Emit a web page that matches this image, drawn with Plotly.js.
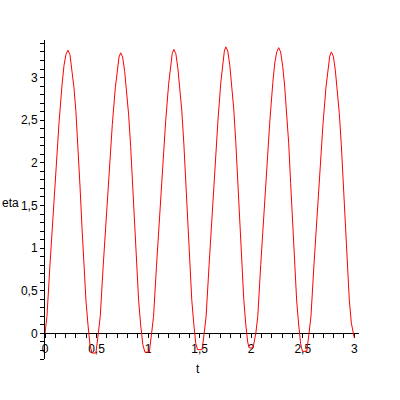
<!DOCTYPE html>
<html>
<head>
<meta charset="utf-8">
<script src="https://cdn.plot.ly/plotly-3.0.1.min.js"></script>
<style>
  html, body { margin: 0; padding: 0; background: #fff; }
  #plot { width: 400px; height: 400px; }
</style>
</head>
<body>
<div id="plot"></div>
<script>
// values, one hump (rise, peak, fall, trough) per array
var t1 = [0, 0.019, 0.048, 0.078, 0.107, 0.136, 0.165, 0.184, 0.203, 0.222, 0.242, 0.262, 0.281, 0.300, 0.320, 0.339, 0.359, 0.378, 0.397, 0.417, 0.436, 0.455, 0.494]
var eta1 = [0, 0.20, 0.80, 1.41, 1.98, 2.47, 2.91, 3.14, 3.27, 3.32, 3.27, 3.10, 2.88, 2.60, 2.21, 1.74, 1.24, 0.74, 0.39, 0.10, -0.13, -0.23, -0.23]

var t2 = [0.517, 0.536, 0.565, 0.595, 0.624, 0.653, 0.682, 0.701, 0.718, 0.734, 0.753, 0.773, 0.792, 0.811, 0.831, 0.850, 0.870, 0.889, 0.908, 0.928, 0.949, 0.969, 1.012]
var eta2 = [0, 0.20, 0.80, 1.40, 1.96, 2.45, 2.88, 3.11, 3.24, 3.29, 3.24, 3.07, 2.85, 2.57, 2.19, 1.72, 1.23, 0.73, 0.39, 0.10, -0.13, -0.22, -0.22]

var t3 = [1.034, 1.053, 1.082, 1.112, 1.141, 1.170, 1.199, 1.217, 1.234, 1.250, 1.269, 1.289, 1.308, 1.327, 1.347, 1.366, 1.386, 1.405, 1.424, 1.444, 1.463, 1.480, 1.524]
var eta3 = [0, 0.20, 0.80, 1.41, 1.99, 2.48, 2.92, 3.15, 3.28, 3.33, 3.28, 3.11, 2.89, 2.61, 2.22, 1.75, 1.24, 0.74, 0.39, 0.10, -0.12, -0.19, -0.19]

var t4 = [1.544, 1.563, 1.592, 1.621, 1.649, 1.678, 1.706, 1.724, 1.740, 1.754, 1.773, 1.793, 1.812, 1.831, 1.851, 1.870, 1.890, 1.909, 1.928, 1.948, 1.966, 1.980, 2.018]
var eta4 = [0, 0.20, 0.81, 1.43, 2.00, 2.50, 2.95, 3.18, 3.31, 3.36, 3.31, 3.14, 2.91, 2.63, 2.24, 1.76, 1.26, 0.75, 0.40, 0.10, -0.10, -0.17, -0.17]

var t5 = [2.045, 2.064, 2.093, 2.123, 2.152, 2.181, 2.210, 2.229, 2.248, 2.267, 2.286, 2.306, 2.325, 2.344, 2.364, 2.383, 2.403, 2.422, 2.441, 2.461, 2.480, 2.497, 2.540]
var eta5 = [0, 0.20, 0.81, 1.42, 2.00, 2.49, 2.94, 3.17, 3.30, 3.35, 3.30, 3.13, 2.90, 2.62, 2.23, 1.76, 1.25, 0.75, 0.39, 0.10, -0.12, -0.21, -0.21]

var t6 = [2.561, 2.580, 2.609, 2.639, 2.668, 2.697, 2.726, 2.745, 2.762, 2.778, 2.797, 2.817, 2.836, 2.855, 2.875, 2.894, 2.914, 2.933, 2.952, 2.972, 3.0]
var eta6 = [0, 0.20, 0.80, 1.40, 1.97, 2.46, 2.89, 3.12, 3.25, 3.30, 3.25, 3.08, 2.86, 2.58, 2.20, 1.73, 1.23, 0.74, 0.39, 0.12, -0.05]

var tAll = [].concat(t1, t2, t3, t4, t5, t6)
var etaAll = [].concat(eta1, eta2, eta3, eta4, eta5, eta6)

var font = {family: "Liberation Sans, Arial, sans-serif", size: 12, color: "black"}

Plotly.newPlot(
    document.getElementById("plot"),
    [{
        type: "scatter",
        mode: "lines",
        x: tAll,
        y: etaAll,
        line: {color: "#ff0000", width: 1},
        hoverinfo: "none",
    }],
    {
        width: 400,
        height: 400,
        margin: {l: 45, r: 41, t: 40, b: 41},
        paper_bgcolor: "white",
        plot_bgcolor: "white",
        separators: ", ",
        showlegend: false,
        font: font,
        xaxis: {
            range: [0, 3.046],
            anchor: "free",
            position: 0.0802,
            showgrid: false,
            zeroline: false,
            showline: true,
            linecolor: "black",
            linewidth: 1,
            ticks: "outside",
            ticklen: 4,
            tickcolor: "black",
            tick0: 0,
            dtick: 0.5,
            minor: {dtick: 0.1, ticks: "outside", ticklen: 4, tickcolor: "black", showgrid: false},
            layer: "below traces",
            tickfont: font,
        },
        yaxis: {
            range: [-0.3, 3.44],
            showgrid: false,
            zeroline: false,
            showline: true,
            linecolor: "black",
            linewidth: 1,
            ticks: "outside",
            ticklen: 4,
            tickcolor: "black",
            tick0: 0,
            dtick: 0.5,
            minor: {dtick: 0.1, ticks: "outside", ticklen: 4, tickcolor: "black", showgrid: false},
            layer: "below traces",
            tickfont: font,
        },
        annotations: [{
            text: "eta",
            font: font,
            showarrow: false,
            x: -0.143,
            y: 0.49,
            xref: "paper",
            yref: "paper",
            xanchor: "left",
            yanchor: "middle",
        }, {
            text: "t",
            font: font,
            showarrow: false,
            x: 0.487,
            y: -0.03,
            xref: "paper",
            yref: "paper",
            xanchor: "center",
            yanchor: "middle",
        }],
    },
    {displayModeBar: false, staticPlot: true}
)
</script>
</body>
</html>
